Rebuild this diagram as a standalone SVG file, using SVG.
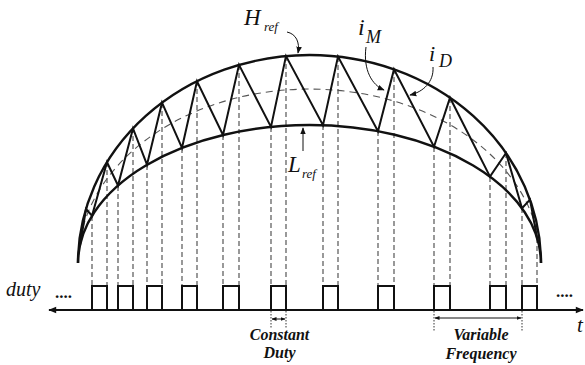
<svg xmlns="http://www.w3.org/2000/svg" width="585" height="365" viewBox="0 0 585 365">
<defs>
<style>
.arc{fill:none;stroke:#111;stroke-width:2.4}
.mid{fill:none;stroke:#555;stroke-width:1.1;stroke-dasharray:7,5}
.zig{fill:none;stroke:#111;stroke-width:2;stroke-linejoin:miter}
.guide{stroke:#555;stroke-width:1.2;stroke-dasharray:5,3}
.pulse{fill:none;stroke:#111;stroke-width:2}
.dot{stroke:#333;stroke-width:1;stroke-dasharray:1.5,1.5}
.lbl{font-family:"Liberation Serif","Times New Roman",serif;font-style:italic;fill:#111}
.bi{font-family:"Liberation Serif","Times New Roman",serif;font-style:italic;font-weight:bold;font-size:16px;fill:#111;text-anchor:middle}
.ptr{fill:none;stroke:#111;stroke-width:1}
</style>
<marker id="ah" viewBox="0 0 10 10" refX="9" refY="5" markerWidth="7" markerHeight="7" markerUnits="userSpaceOnUse" orient="auto">
<path d="M0,1 L10,5 L0,9 Z" fill="#111"/>
</marker>
<marker id="axh" viewBox="0 0 10 10" refX="9" refY="5" markerWidth="9" markerHeight="8" markerUnits="userSpaceOnUse" orient="auto-start-reverse">
<path d="M0,1 L10,5 L0,9 Z" fill="#111"/>
</marker>
<marker id="sh" viewBox="0 0 10 10" refX="9" refY="5" markerWidth="5" markerHeight="5" markerUnits="userSpaceOnUse" orient="auto-start-reverse">
<path d="M0,1 L10,5 L0,9 Z" fill="#111"/>
</marker>
</defs>
<rect width="585" height="365" fill="#fff"/>

<g id="guides">
<line class="guide" x1="92" y1="216" x2="92" y2="286"/>
<line class="guide" x1="107" y1="162" x2="107" y2="286"/>
<line class="guide" x1="118" y1="186" x2="118" y2="286"/>
<line class="guide" x1="133" y1="128" x2="133" y2="286"/>
<line class="guide" x1="147" y1="165" x2="147" y2="286"/>
<line class="guide" x1="162" y1="103" x2="162" y2="286"/>
<line class="guide" x1="182" y1="148" x2="182" y2="286"/>
<line class="guide" x1="197" y1="81" x2="197" y2="286"/>
<line class="guide" x1="223" y1="135" x2="223" y2="286"/>
<line class="guide" x1="239" y1="65" x2="239" y2="286"/>
<line class="guide" x1="271" y1="127" x2="271" y2="286"/>
<line class="guide" x1="286" y1="56" x2="286" y2="286"/>
<line class="guide" x1="323" y1="125" x2="323" y2="286"/>
<line class="guide" x1="338" y1="57" x2="338" y2="286"/>
<line class="guide" x1="378" y1="131" x2="378" y2="286"/>
<line class="guide" x1="394" y1="69" x2="394" y2="286"/>
<line class="guide" x1="434" y1="147" x2="434" y2="286"/>
<line class="guide" x1="450" y1="98" x2="450" y2="286"/>
<line class="guide" x1="490" y1="177" x2="490" y2="286"/>
<line class="guide" x1="506" y1="153" x2="506" y2="286"/>
<line class="guide" x1="522" y1="208" x2="522" y2="286"/>
<line class="guide" x1="537" y1="238" x2="537" y2="286"/>
</g>

<g id="envelopes">
<path class="mid" d="M78,263 A231.5,174 0 0 1 541,263"/>
<path id="Href" class="arc" d="M78,263 A231.5,208 0 0 1 541,263"/>
<path id="Lref" class="arc" d="M78,263 A231.5,138 0 0 1 541,263"/>
</g>

<g id="current">
<polyline class="zig" points="80,246 86,209 92,215.7 107,162.2 118,185.5 133,128.4 147,164.7 162,102.7 182,147.8 197,81.2 223,135 239,64.9 271,126.9 286,56.1 323,125.2 338,56.6 378,131.2 394,69.4 434,146.7 450,97.7 490,176.6 506,153 522,208.2 530,199.6 537,237.5"/>
</g>

<g id="pulses">
<path class="pulse" d="M92,310V286H107V310"/>
<path class="pulse" d="M118,310V286H133V310"/>
<path class="pulse" d="M147,310V286H162V310"/>
<path class="pulse" d="M182,310V286H197V310"/>
<path class="pulse" d="M223,310V286H239V310"/>
<path class="pulse" d="M271,310V286H286V310"/>
<path class="pulse" d="M323,310V286H338V310"/>
<path class="pulse" d="M378,310V286H394V310"/>
<path class="pulse" d="M434,310V286H450V310"/>
<path class="pulse" d="M490,310V286H506V310"/>
<path class="pulse" d="M522,310V286H537V310"/>
</g>

<g id="axis">
<line x1="49" y1="310" x2="583" y2="310" stroke="#111" stroke-width="2" marker-start="url(#axh)" marker-end="url(#axh)"/>
<text x="55" y="298" style="font-family:'Liberation Serif',serif;font-weight:bold;font-size:17px;fill:#111">....</text>
<text x="556" y="297" style="font-family:'Liberation Serif',serif;font-weight:bold;font-size:17px;fill:#111">....</text>
<text class="lbl" x="6" y="296" font-size="20">duty</text>
<text class="lbl" x="577" y="332" font-size="21">t</text>
</g>

<g id="constant-duty">
<line class="dot" x1="271" y1="311" x2="271" y2="329"/>
<line class="dot" x1="286" y1="311" x2="286" y2="329"/>
<line x1="272" y1="319" x2="285" y2="319" stroke="#111" stroke-width="1" marker-start="url(#sh)" marker-end="url(#sh)"/>
<text class="bi" x="279.5" y="340">Constant</text>
<text class="bi" x="279.5" y="358">Duty</text>
</g>

<g id="variable-frequency">
<line class="dot" x1="434" y1="311" x2="434" y2="331"/>
<line class="dot" x1="522" y1="311" x2="522" y2="331"/>
<line x1="435" y1="318" x2="521" y2="318" stroke="#111" stroke-width="1" marker-start="url(#sh)" marker-end="url(#sh)"/>
<text class="bi" x="481" y="340">Variable</text>
<text class="bi" x="481" y="359">Frequency</text>
</g>

<g id="labels">
<text class="lbl" x="244" y="25" font-size="23">H</text>
<text class="lbl" x="264" y="31" font-size="13">ref</text>
<path class="ptr" d="M287,32 C296,34 300,42 298,53" marker-end="url(#ah)"/>
<text class="lbl" x="288" y="172" font-size="23">L</text>
<text class="lbl" x="302" y="178" font-size="13">ref</text>
<line class="ptr" x1="303" y1="151" x2="303" y2="128" marker-end="url(#ah)"/>
<text class="lbl" x="358" y="35" font-size="24">i</text>
<text class="lbl" x="366" y="43" font-size="18">M</text>
<path class="ptr" d="M366,47 C363,70 372,85 384,90" marker-end="url(#ah)"/>
<text class="lbl" x="429" y="61" font-size="22">i</text>
<text class="lbl" x="439" y="67" font-size="18">D</text>
<path class="ptr" d="M433,67 C434,82 423,92 410,95" marker-end="url(#ah)"/>
</g>
</svg>
